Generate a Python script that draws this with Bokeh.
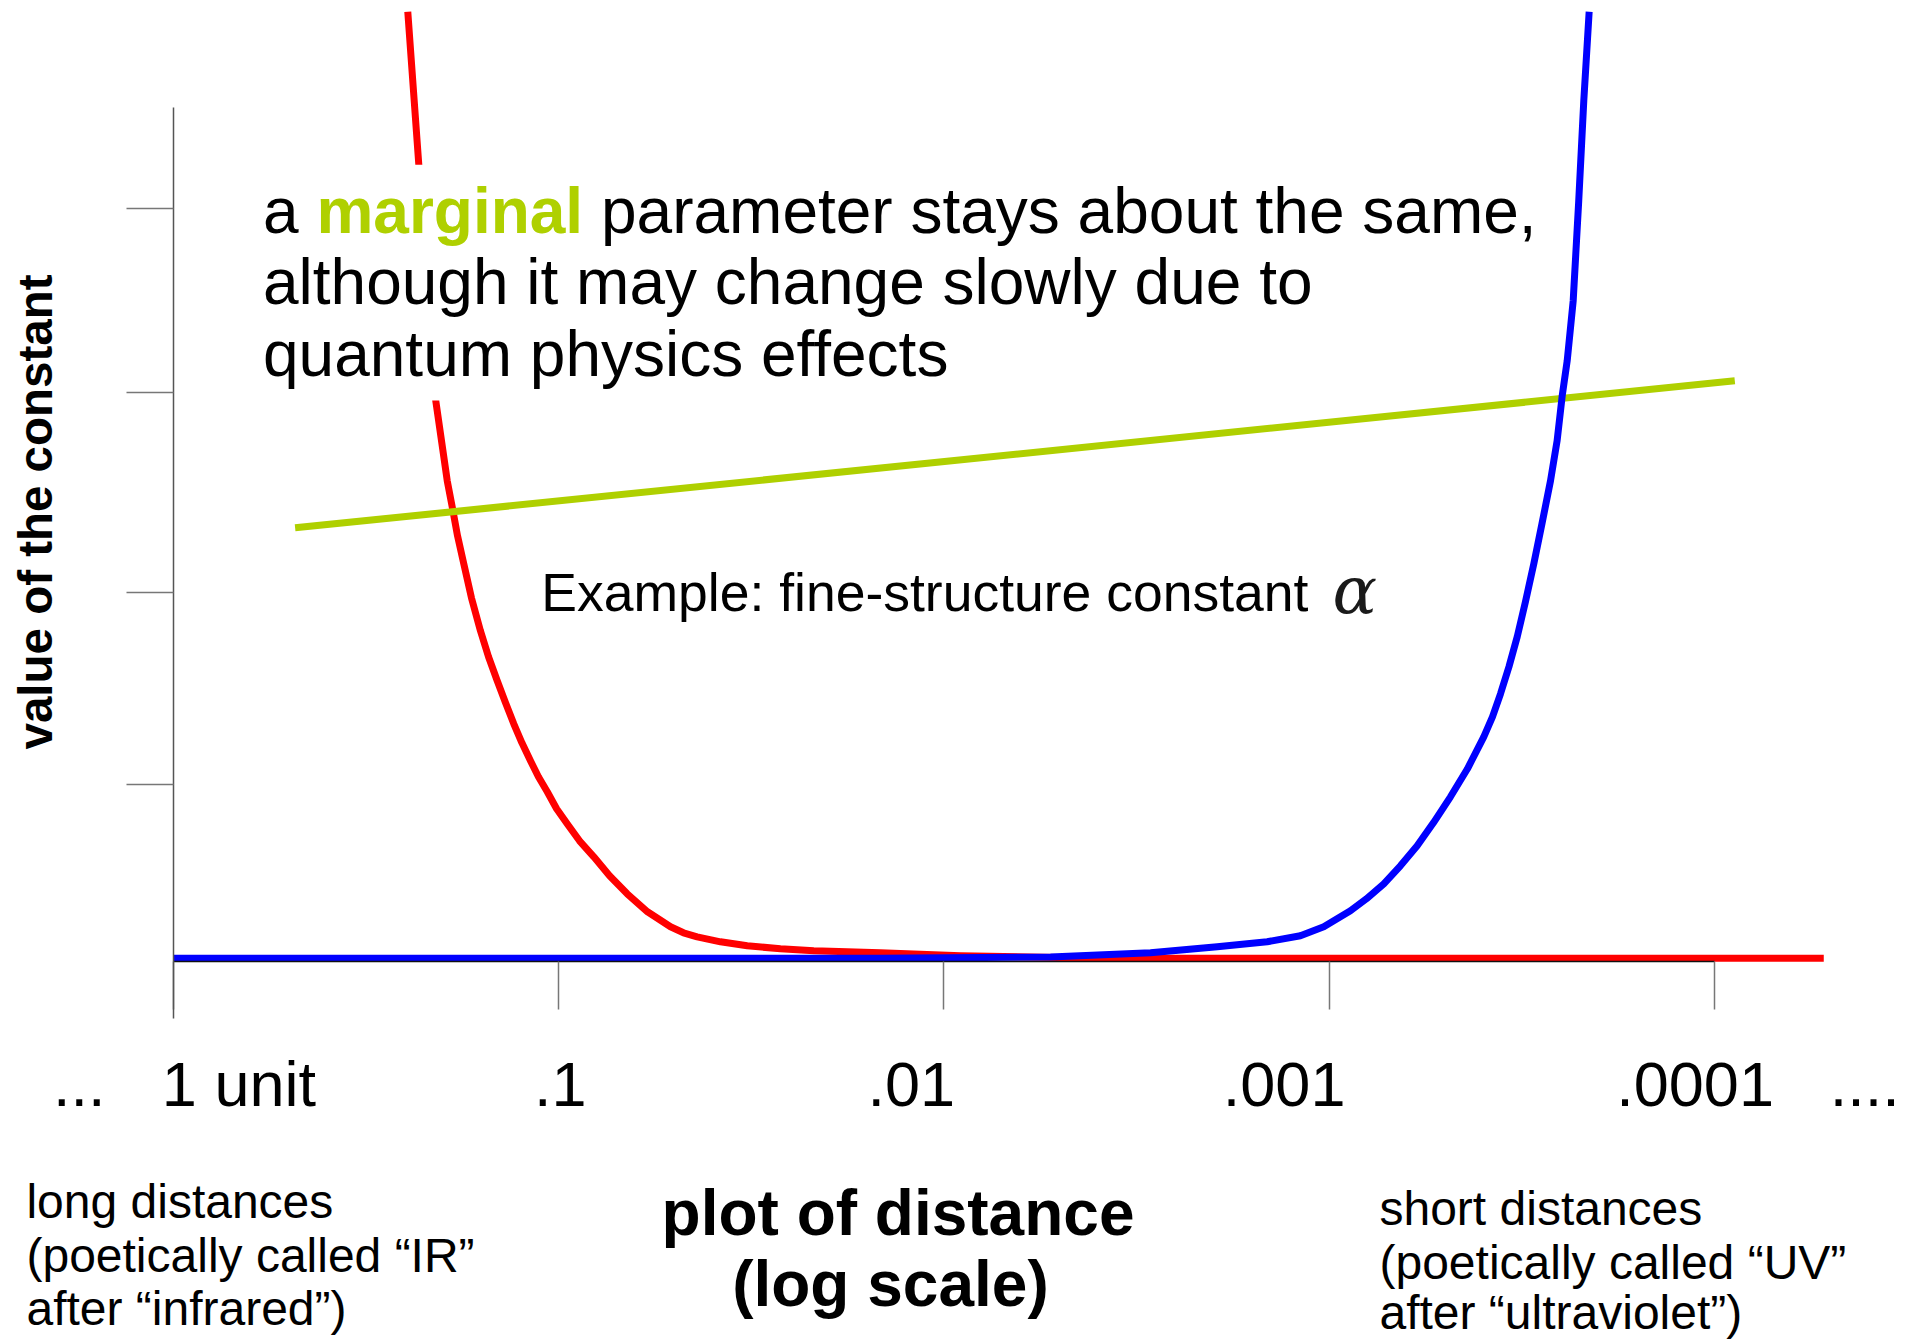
import math
from bokeh.plotting import figure
from bokeh.models import Range1d, FixedTicker
from bokeh.core.properties import value
from bokeh.embed import file_html
from bokeh.resources import INLINE

# ---------------- data (distance in units, value of the constant) ----------------
red_distance = [0.2462, 0.2305, 0.2083, 0.1945, 0.1888, 0.1829, 0.1762, 0.1683,
                0.1595, 0.1520, 0.1443, 0.1373, 0.1307, 0.1245, 0.1183, 0.1128,
                0.1070, 0.1012, 0.09500, 0.08826, 0.08103, 0.07375, 0.06637,
                0.05879, 0.05124, 0.04741, 0.04370, 0.03801, 0.03240, 0.02656,
                0.02177, 0.01462, 0.009062, 0.003926, 5.214e-5]
red_value = [9.50, 7.97, 5.61, 4.81, 4.55, 4.26, 3.98, 3.64, 3.31, 3.05, 2.81,
             2.59, 2.38, 2.19, 2.01, 1.85, 1.70, 1.53, 1.38, 1.21, 1.05, 0.86,
             0.68, 0.50, 0.35, 0.29, 0.25, 0.20, 0.16, 0.13, 0.11, 0.09, 0.06,
             0.035, 0.035]

blue_distance = [1.0, 0.01462, 0.005289, 0.002911, 0.001954, 0.001450, 0.001189,
                 0.001034, 8.817e-4, 8.013e-4, 7.224e-4, 6.541e-4, 5.917e-4,
                 5.371e-4, 4.850e-4, 4.382e-4, 3.975e-4, 3.774e-4, 3.597e-4,
                 3.420e-4, 3.255e-4, 3.099e-4, 2.948e-4, 2.808e-4, 2.668e-4,
                 2.565e-4, 2.488e-4, 2.415e-4, 2.330e-4, 2.254e-4, 2.187e-4,
                 2.118e-4]
blue_value = [0.035, 0.035, 0.048, 0.09, 0.15, 0.20, 0.26, 0.35, 0.51, 0.63, 0.78,
              0.96, 1.16, 1.39, 1.65, 1.93, 2.25, 2.45, 2.68, 2.95, 3.25, 3.60,
              3.98, 4.38, 4.81, 5.21, 5.66, 6.01, 6.61, 7.61, 8.61, 9.50]

green_distance = [0.4827, 8.872e-5]
green_value = [4.34, 5.81]

x_ticks = [1, 0.1, 0.01, 0.001, 0.0001]
y_ticks = [1.771, 3.693, 5.69, 7.535]

tick_labels = ["...", "1 unit", ".1", ".01", ".001", ".0001", "...."]
tick_label_pos = [2.051, 1.070, 0.1159, 0.01580, 0.001890, 1.801e-4, 5.030e-5]

headline_parts = ["a", "marginal", "parameter stays about the same,"]
headline_lines = ["although it may change slowly due to", "quantum physics effects"]
example_text = "Example: fine-structure constant"
alpha_text = "α"
x_title_lines = ["plot of distance", "(log scale)"]
y_title = "value of the constant"
ir_lines = ["long distances", "(poetically called “IR”", "after “infrared”)"]
uv_lines = ["short distances", "(poetically called “UV”", "after “ultraviolet”)"]

RED = "#FF0000"
BLUE = "#0000FF"
GREEN = "#AFD000"
FONT = value("Liberation Sans")
BASE_SHIFT = 0.36  # baseline correction, in em

p = figure(width=1916, height=1341, x_axis_type="log",
           x_range=Range1d(2.806, 2.996e-5), y_range=Range1d(-3.797, 9.613),
           min_border=0, toolbar_location=None, tools="", output_backend="svg")
p.outline_line_color = None
p.grid.visible = False
p.background_fill_color = "white"

# axes placed inside the frame
p.xaxis.fixed_location = 0
p.yaxis.fixed_location = 1
p.xaxis.ticker = FixedTicker(ticks=x_ticks, minor_ticks=[])
p.yaxis.ticker = FixedTicker(ticks=y_ticks, minor_ticks=[])
p.xaxis.bounds = (1e-4, 1)
p.yaxis.bounds = (-0.567, 8.54)
p.xaxis.major_label_overrides = {t: "" for t in x_ticks}
p.yaxis.major_label_overrides = {t: "" for t in y_ticks}
p.axis.major_label_text_color = None
p.axis.major_tick_in = 0
p.xaxis.major_tick_out = 48
p.yaxis.major_tick_out = 47
p.axis.minor_tick_line_color = None
p.xaxis.axis_line_color = "#111111"
p.yaxis.axis_line_color = "#555555"
p.axis.axis_line_width = 1.5
p.axis.major_tick_line_color = "#777777"
p.axis.major_tick_line_width = 1.5

# curves
p.line(red_distance, red_value, line_color=RED, line_width=7, line_join="round")
# white box behind the headline text
p.quad(left=[0.6300], right=[2.750e-4], top=[7.97], bottom=[5.613],
       fill_color="white", line_color=None)
p.line(green_distance, green_value, line_color=GREEN, line_width=7)
p.line(blue_distance, blue_value, line_color=BLUE, line_width=7, line_join="round")

def txt(x, y, text, size, style="normal", color="black", align="left",
        angle=0.0, font=FONT, x_offset=0.0):
    shift = -BASE_SHIFT * size
    if angle:
        xo, yo = x_offset + shift, 0.0
    else:
        xo, yo = x_offset, shift
    p.text(x=x, y=y, text=text, text_font=font, text_font_size=f"{size}px",
           text_font_style=style, text_color=color, text_align=align,
           text_baseline="alphabetic", angle=angle, x_offset=xo, y_offset=yo)

# headline
txt([0.5848], [7.28], [headline_parts[0]], 64)
txt([0.5848], [7.28], [headline_parts[1]], 64, style="bold", color=GREEN, x_offset=53.4)
txt([0.5848], [7.28], [headline_parts[2]], 64, x_offset=338.0)
txt([0.5848, 0.5848], [6.563, 5.846], headline_lines, 64)

# example
txt([0.1109], [3.496], [example_text], 53.5)
txt([9.815e-4], [3.48], [alpha_text], 66, style="italic", color="#1a1a1a",
    font=value("DejaVu Serif"))

# tick labels
txt(tick_label_pos, [-1.452] * len(tick_labels), tick_labels, 63)

# axis titles
txt([0.01316, 0.01377], [-2.743, -3.457], x_title_lines, 64, style="bold", align="center")
txt([2.051], [4.498], [y_title], 47.5, style="bold", align="center", angle=math.pi / 2)

# side notes
txt([2.403] * 3, [-2.571, -3.111, -3.642], ir_lines, 48)
txt([7.413e-4] * 3, [-2.64, -3.18, -3.68], uv_lines, 48)

open("out.html", "w").write(file_html(p, INLINE))
